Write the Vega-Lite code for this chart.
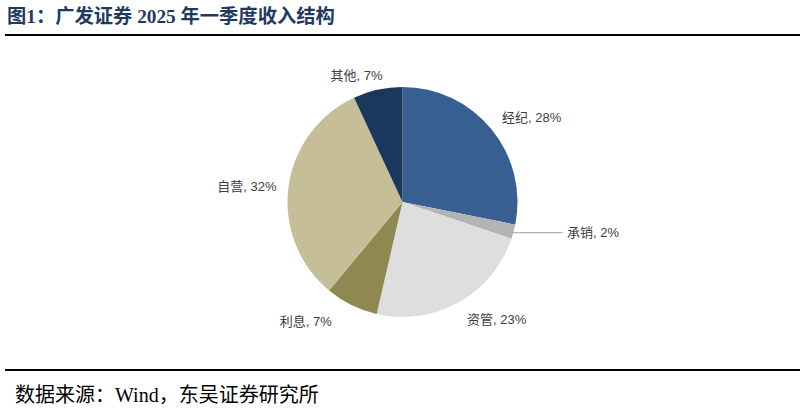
{
  "$schema": "https://vega.github.io/schema/vega-lite/v6.json",
  "width": 795,
  "height": 336,
  "autosize": {"type": "none"},
  "padding": {"left": 5, "top": 34, "right": 5, "bottom": 47},
  "background": "white",
  "config": {"view": {"stroke": null}},
  "title": {
    "text": "图1：广发证券 2025 年一季度收入结构",
    "anchor": "start",
    "font": "Liberation Serif, Noto Sans CJK SC",
    "fontSize": 19.3,
    "fontWeight": "bold",
    "color": "#1F3A60",
    "offset": 7,
    "dx": 3
  },
  "data": {
    "values": [
      {"cat": "经纪", "value": 28.1, "order": 1},
      {"cat": "承销", "value": 2.0, "order": 2},
      {"cat": "资管", "value": 23.4, "order": 3},
      {"cat": "利息", "value": 7.4, "order": 4},
      {"cat": "自营", "value": 32.0, "order": 5},
      {"cat": "其他", "value": 6.9, "order": 6}
    ]
  },
  "layer": [
    {
      "mark": {"type": "arc", "outerRadius": 115},
      "encoding": {
        "theta": {"field": "value", "type": "quantitative", "stack": true},
        "order": {"field": "order", "type": "quantitative"},
        "color": {
          "field": "cat",
          "type": "nominal",
          "scale": {
            "domain": ["经纪", "承销", "资管", "利息", "自营", "其他"],
            "range": ["#375F91", "#B4B4B4", "#DEDEDE", "#8F8951", "#C6BE96", "#1A375C"]
          },
          "legend": null
        }
      }
    },
    {
      "transform": [{"calculate": "datum.cat + ', ' + format(datum.value, '.0f') + '%'", "as": "label"}],
      "mark": {"type": "text", "radius": 130, "align": "left", "baseline": "middle", "dx": -1, "dy": -2, "fontSize": 13, "font": "Liberation Sans, Noto Sans CJK SC", "color": "#404040"},
      "encoding": {
        "theta": {"field": "value", "type": "quantitative", "stack": true},
        "order": {"field": "order", "type": "quantitative"},
        "text": {"condition": {"test": "datum.cat === '经纪'", "field": "label"}, "value": ""}
      }
    },
    {
      "transform": [{"calculate": "datum.cat + ', ' + format(datum.value, '.0f') + '%'", "as": "label"}],
      "mark": {"type": "text", "radius": 130, "align": "left", "baseline": "middle", "dx": 1, "dy": 5, "fontSize": 13, "font": "Liberation Sans, Noto Sans CJK SC", "color": "#404040"},
      "encoding": {
        "theta": {"field": "value", "type": "quantitative", "stack": true},
        "order": {"field": "order", "type": "quantitative"},
        "text": {"condition": {"test": "datum.cat === '资管'", "field": "label"}, "value": ""}
      }
    },
    {
      "transform": [{"calculate": "datum.cat + ', ' + format(datum.value, '.0f') + '%'", "as": "label"}],
      "mark": {"type": "text", "radius": 130, "align": "right", "baseline": "middle", "dx": -13, "dy": 3, "fontSize": 13, "font": "Liberation Sans, Noto Sans CJK SC", "color": "#404040"},
      "encoding": {
        "theta": {"field": "value", "type": "quantitative", "stack": true},
        "order": {"field": "order", "type": "quantitative"},
        "text": {"condition": {"test": "datum.cat === '利息'", "field": "label"}, "value": ""}
      }
    },
    {
      "transform": [{"calculate": "datum.cat + ', ' + format(datum.value, '.0f') + '%'", "as": "label"}],
      "mark": {"type": "text", "radius": 130, "align": "right", "baseline": "middle", "dx": 3, "dy": 2, "fontSize": 13, "font": "Liberation Sans, Noto Sans CJK SC", "color": "#404040"},
      "encoding": {
        "theta": {"field": "value", "type": "quantitative", "stack": true},
        "order": {"field": "order", "type": "quantitative"},
        "text": {"condition": {"test": "datum.cat === '自营'", "field": "label"}, "value": ""}
      }
    },
    {
      "transform": [{"calculate": "datum.cat + ', ' + format(datum.value, '.0f') + '%'", "as": "label"}],
      "mark": {"type": "text", "radius": 130, "align": "right", "baseline": "middle", "dx": 8, "dy": 1, "fontSize": 13, "font": "Liberation Sans, Noto Sans CJK SC", "color": "#404040"},
      "encoding": {
        "theta": {"field": "value", "type": "quantitative", "stack": true},
        "order": {"field": "order", "type": "quantitative"},
        "text": {"condition": {"test": "datum.cat === '其他'", "field": "label"}, "value": ""}
      }
    },
    {
      "transform": [{"calculate": "datum.cat + ', ' + format(datum.value, '.0f') + '%'", "as": "label"}],
      "mark": {"type": "text", "radius": 130, "align": "left", "baseline": "middle", "dx": 39, "dy": -3, "fontSize": 13, "font": "Liberation Sans, Noto Sans CJK SC", "color": "#404040"},
      "encoding": {
        "theta": {"field": "value", "type": "quantitative", "stack": true},
        "order": {"field": "order", "type": "quantitative"},
        "text": {"condition": {"test": "datum.cat === '承销'", "field": "label"}, "value": ""}
      }
    },
    {
      "mark": {"type": "text", "radius": 115, "align": "left", "baseline": "middle", "dx": -2, "dy": 1, "fontSize": 12, "font": "DejaVu Sans", "color": "#A6A6A6"},
      "encoding": {
        "theta": {"field": "value", "type": "quantitative", "stack": true},
        "order": {"field": "order", "type": "quantitative"},
        "text": {"condition": {"test": "datum.cat === '承销'", "value": "───────"}, "value": ""}
      }
    },
    {
      "data": {"values": [{"pos": "top"}]},
      "mark": {"type": "rule", "strokeWidth": 2, "color": "#000000"},
      "encoding": {"x": {"value": 0}, "x2": {"value": "width"}, "y": {"value": 1}}
    },
    {
      "data": {"values": [{"pos": "bottom"}]},
      "mark": {"type": "rule", "strokeWidth": 2, "color": "#000000"},
      "encoding": {"x": {"value": 0}, "x2": {"value": "width"}, "y": {"value": "height"}}
    },
    {
      "data": {"values": [{"t": "数据来源：Wind，东吴证券研究所"}]},
      "mark": {"type": "text", "align": "left", "baseline": "middle", "fontSize": 20, "font": "Liberation Serif, Noto Sans CJK SC", "color": "#000000"},
      "encoding": {"text": {"field": "t", "type": "nominal"}, "x": {"value": 10}, "y": {"value": 362}}
    }
  ]
}
